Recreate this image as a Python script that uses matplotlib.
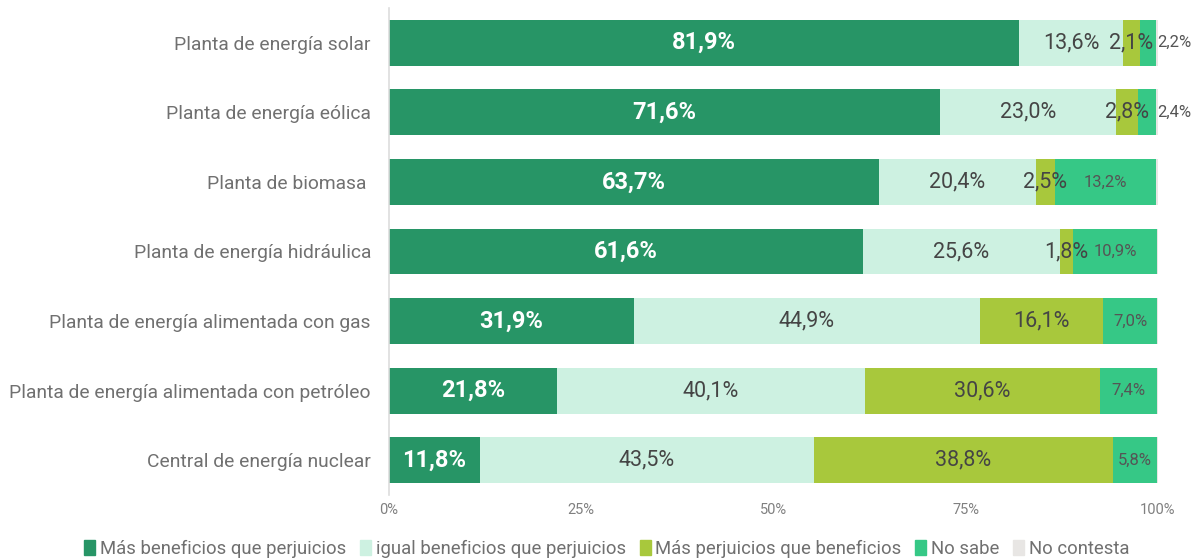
import numpy as np
from matplotlib import pyplot as plt, patches

plt.rcParams['font.family'] = ['Roboto', 'DejaVu Sans']

categories = [
    'Planta de energía solar',
    'Planta de energía eólica',
    'Planta de biomasa ',
    'Planta de energía hidráulica',
    'Planta de energía alimentada con gas',
    'Planta de energía alimentada con petróleo',
    'Central de energía nuclear',
]
series_names = [
    'Más beneficios que perjuicios',
    'igual beneficios que perjuicios',
    'Más perjuicios que beneficios',
    'No sabe',
    'No contesta',
]
mas_beneficios = [81.9, 71.6, 63.7, 61.6, 31.9, 21.8, 11.8]
igual = [13.6, 23.0, 20.4, 25.6, 44.9, 40.1, 43.5]
mas_perjuicios = [2.1, 2.8, 2.5, 1.8, 16.1, 30.6, 38.8]
no_sabe = [2.2, 2.4, 13.2, 10.9, 7.0, 7.4, 5.8]
no_contesta = [0.2, 0.2, 0.2, 0.1, 0.1, 0.1, 0.1]
x_ticks = [0, 25, 50, 75, 100]

colors = ['#279566', '#cdf1e1', '#a8c83c', '#36c886', '#e8e6e4']


def fmt(v):
    return f'{v:.1f}%'.replace('.', ',')


def main():
    fig = plt.figure(figsize=(11.92, 5.58), dpi=100)
    ax = fig.add_axes([0.3263, 0.1129, 0.6452, 0.8728])

    series = [mas_beneficios, igual, mas_perjuicios, no_sabe, no_contesta]
    y = np.arange(len(categories))
    left = np.zeros(len(categories))

    for k, vals in enumerate(series):
        vals = np.array(vals)
        ax.barh(y, vals, left=left, height=0.66, color=colors[k],
                label=series_names[k], linewidth=0)
        for i, v in enumerate(vals):
            cx = left[i] + v / 2
            if k == 0:
                ax.text(cx, y[i], fmt(v), ha='center', va='center',
                        color='white', fontsize=17, fontweight='bold')
            elif k in (1, 2):
                ax.text(cx, y[i], fmt(v), ha='center', va='center',
                        color='#454545', fontsize=15.5)
            elif k == 3:
                # narrow segments get the label just past the bar end
                if v < 5:
                    ax.text(left[i] + v + 0.1, y[i], fmt(v), ha='left',
                            va='center', color='#555555', fontsize=12)
                else:
                    ax.text(cx, y[i], fmt(v), ha='center', va='center',
                            color='#555555', fontsize=12)
        left += vals

    ax.set_xlim(0, 100)
    ax.set_ylim(len(categories) - 0.5, -0.5)
    ax.set_yticks(y)
    ax.set_yticklabels(categories, fontsize=13.9, color='#707070')
    ax.set_xticks(x_ticks)
    ax.set_xticklabels([f'{t}%' for t in x_ticks], fontsize=10.5, color='#808080')
    ax.tick_params(length=0)
    ax.tick_params(axis='y', pad=13)
    ax.tick_params(axis='x', pad=6)
    for side in ['top', 'right', 'bottom']:
        ax.spines[side].set_visible(False)
    ax.spines['left'].set_color('#dddddd')
    ax.spines['left'].set_linewidth(1.2)

    handles = [patches.Patch(color=c) for c in colors]
    leg = fig.legend(handles, series_names, loc='center', bbox_to_anchor=(0.509, 0.016),
                     ncol=5, frameon=False, fontsize=13.3, handlelength=0.6,
                     handleheight=0.9, handletextpad=0.25, columnspacing=0.75)
    for t in leg.get_texts():
        t.set_color('#707070')

    plt.savefig('out.png', dpi=100)


if __name__ == '__main__':
    main()
